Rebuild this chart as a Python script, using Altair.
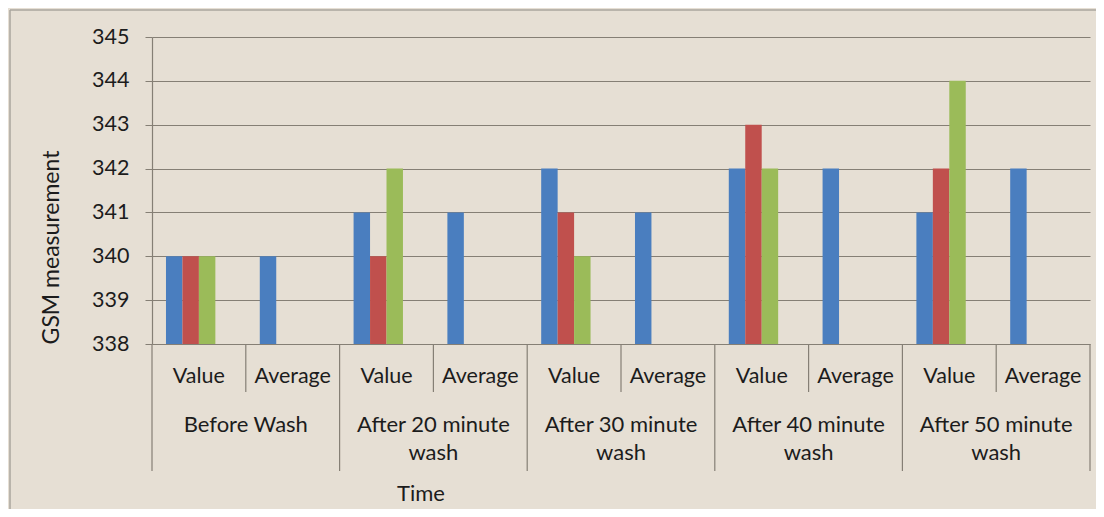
import altair as alt
import pandas as pd

# ---- data ----
groups = ["Before Wash", "After 20 minute\nwash", "After 30 minute\nwash",
          "After 40 minute\nwash", "After 50 minute\nwash"]
subcats = ["Value", "Average"]
series_names = ["S1", "S2", "S3", "S4"]   # S4 is an empty series slot (Excel layout)
value_s1 = [340, 341, 342, 342, 341]
value_s2 = [340, 340, 341, 343, 342]
value_s3 = [340, 342, 340, 342, 344]
average_s1 = [340, 341, 341, 342, 342]
y_ticks = [338, 339, 340, 341, 342, 343, 344, 345]
colors = ["#4a7ebf", "#c0504d", "#9bbb59"]

FONT = "Lato"
TXT = "#1c1c1c"
GRID = "#857f75"
BG = "#e6dfd4"

slots = []
slot_label = []
for gi, g in enumerate(groups):
    for s in subcats:
        slots.append(f"{gi}|{s}")
        slot_label.append(s)

rows = []
for gi in range(len(groups)):
    rows.append({"slot": f"{gi}|Value", "series": "S1", "value": value_s1[gi]})
    rows.append({"slot": f"{gi}|Value", "series": "S2", "value": value_s2[gi]})
    rows.append({"slot": f"{gi}|Value", "series": "S3", "value": value_s3[gi]})
    rows.append({"slot": f"{gi}|Average", "series": "S1", "value": average_s1[gi]})
bars_df = pd.DataFrame(rows)

sub_df = pd.DataFrame({"slot": slots, "label": slot_label})
grp_df = pd.DataFrame({"slot": [f"{gi}|Value" for gi in range(len(groups))], "label": groups})
grp_start_df = pd.DataFrame({"slot": [f"{gi}|Value" for gi in range(len(groups))]})
grp_end_df = pd.DataFrame({"slot": [slots[-1]]})
sub_div_df = pd.DataFrame({"slot": [f"{gi}|Average" for gi in range(len(groups))]})
one = pd.DataFrame({"t": ["Time"]})

W, H = 938, 307
xscale = alt.Scale(domain=slots, paddingInner=0, paddingOuter=0)

bars = alt.Chart(bars_df).mark_bar().encode(
    x=alt.X("slot:N", scale=xscale, axis=None, sort=slots),
    xOffset=alt.XOffset("series:N", scale=alt.Scale(domain=series_names, paddingInner=0, paddingOuter=0.85)),
    y=alt.Y("value:Q", scale=alt.Scale(domain=[338, 345], nice=False, zero=False),
            axis=alt.Axis(values=y_ticks, grid=True, gridColor=GRID, gridWidth=1.2,
                          tickColor=GRID, tickSize=7, domainColor=GRID, domainWidth=1.2,
                          labelFont=FONT, labelFontSize=21.5, labelColor=TXT, labelPadding=16,
                          title="GSM measurement", titleFont=FONT, titleFontSize=23,
                          titleFontWeight="normal", titleColor=TXT, titleAngle=270,
                          titleX=-101, titleY=210, titleAlign="center", titleBaseline="middle")),
    y2=alt.datum(338),
    color=alt.Color("series:N", scale=alt.Scale(domain=series_names[:3], range=colors), legend=None),
)

sub_text = alt.Chart(sub_df).mark_text(font=FONT, fontSize=21.5, color=TXT, baseline="alphabetic").encode(
    x=alt.X("slot:N", scale=xscale, axis=None, sort=slots),
    y=alt.value(346),
    text="label:N",
)

grp_text = alt.Chart(grp_df).mark_text(font=FONT, fontSize=22, color=TXT, baseline="alphabetic",
                                       lineBreak="\n", lineHeight=28).encode(
    x=alt.X("slot:N", scale=xscale, axis=None, sort=slots, bandPosition=1),
    y=alt.value(395),
    text="label:N",
)

rule_kw = dict(color=GRID, strokeWidth=1.2)
grp_rules = alt.Chart(grp_start_df).mark_rule(**rule_kw).encode(
    x=alt.X("slot:N", scale=xscale, axis=None, sort=slots, bandPosition=0),
    y=alt.value(H), y2=alt.value(434),
)
end_rule = alt.Chart(grp_end_df).mark_rule(**rule_kw).encode(
    x=alt.X("slot:N", scale=xscale, axis=None, sort=slots, bandPosition=1),
    y=alt.value(H), y2=alt.value(434),
)
sub_rules = alt.Chart(sub_div_df).mark_rule(**rule_kw).encode(
    x=alt.X("slot:N", scale=xscale, axis=None, sort=slots, bandPosition=0),
    y=alt.value(H), y2=alt.value(355),
)

time_title = alt.Chart(one).mark_text(font=FONT, fontSize=22, color=TXT, baseline="middle").encode(
    x=alt.value(269), y=alt.value(457), text="t:N",
)

frame_top = alt.Chart(one).mark_rule(color="#aaa69e", strokeWidth=1.5).encode(
    x=alt.value(-142), x2=alt.value(W + 10), y=alt.value(-27),
)
frame_left = alt.Chart(one).mark_rule(color="#aaa69e", strokeWidth=1.5).encode(
    x=alt.value(-142), y=alt.value(-27), y2=alt.value(H + 170),
)

chart = alt.layer(
    bars, grp_rules, end_rule, sub_rules, sub_text, grp_text, time_title, frame_top, frame_left
).properties(
    width=W, height=H,
    autosize=alt.AutoSizeParams(type="none"),
    padding={"left": 144, "top": 29, "right": 6, "bottom": 165},
    background=BG,
).configure_view(stroke=None)

chart.save("out.html", embed_options={"renderer": "svg", "actions": False})
